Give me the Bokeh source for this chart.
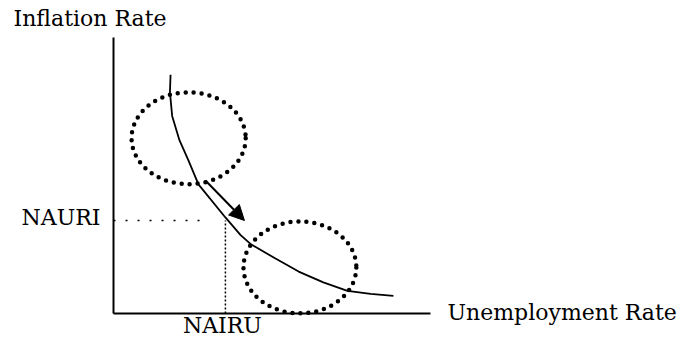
from bokeh.plotting import figure
from bokeh.models import Range1d, Label, Arrow, NormalHead
from bokeh.embed import file_html
from bokeh.resources import INLINE

# ---- data ----
# Phillips curve (unemployment rate, inflation rate), abstract units 0..10
curve_x = [1.80, 1.78, 1.85, 2.08, 2.37, 2.68, 3.53, 4.01, 4.32, 5.11, 5.84, 6.62, 7.38, 8.11, 8.83]
curve_y = [8.65, 8.01, 7.16, 6.28, 5.53, 4.68, 3.48, 2.84, 2.52, 1.99, 1.52, 1.13, 0.82, 0.71, 0.64]

# dotted ellipses (centre x, centre y, width, height)
circle_x = [2.37, 5.88]
circle_y = [6.35, 1.67]
circle_w = [3.60, 3.56]
circle_h = [3.33, 3.33]

# arrow along the curve
arrow_start = [2.90, 4.82]
arrow_end = [4.13, 3.37]

# reference levels
nairu = 3.53
nauri = 3.37
nauri_line_end = 2.74

# axes extents
axis_origin = 0.0
x_axis_end = 10.0
y_axis_end = 10.0

# labels
y_title = "Inflation Rate"
x_title = "Unemployment Rate"
nairu_label = "NAIRU"
nauri_label = "NAURI"

FONT = "DejaVu Serif"
FSIZE = "22px"

p = figure(width=679, height=339,
           x_range=Range1d(-3.565, 17.855), y_range=Range1d(-0.942, 11.341),
           x_axis_type=None, y_axis_type=None,
           min_border=0, toolbar_location=None, output_backend="svg",
           outline_line_color=None, background_fill_color="white",
           border_fill_color="white")

# axes lines
p.segment(x0=[axis_origin, axis_origin], y0=[axis_origin, axis_origin],
          x1=[x_axis_end, axis_origin], y1=[axis_origin, y_axis_end],
          line_color="black", line_width=2)

# reference dotted lines
p.line([axis_origin, nauri_line_end], [nauri, nauri], line_color="black",
       line_width=1.5, line_dash="2 10")
p.line([nairu, nairu], [axis_origin, nauri], line_color="black",
       line_width=1.5, line_dash="2 2")

# curve
p.line(curve_x, curve_y, line_color="black", line_width=1.8)

# dotted ellipses
p.ellipse(x=circle_x, y=circle_y, width=circle_w, height=circle_h,
          fill_color=None, line_color="black", line_width=4.5,
          line_dash="0 8", line_cap="round")

# arrow
p.add_layout(Arrow(x_start=arrow_start[0], y_start=arrow_start[1],
                   x_end=arrow_end[0], y_end=arrow_end[1],
                   line_color="black", line_width=2,
                   end=NormalHead(size=15, fill_color="black",
                                  line_color="black", line_width=1)))

# texts
def lab(x, y, text, align, xo, yo):
    p.add_layout(Label(x=x, y=y, text=text, text_align=align,
                       text_baseline="alphabetic", x_offset=xo, y_offset=yo,
                       text_font=FONT, text_font_size=FSIZE,
                       text_color="black"))

lab(axis_origin, y_axis_end, y_title, "left", -100, 19)
lab(x_axis_end, axis_origin, x_title, "left", 17, 1)
lab(nairu, axis_origin, nairu_label, "center", -3, -12)
lab(axis_origin, nauri, nauri_label, "right", -13, 3)

open("out.html", "w").write(file_html(p, INLINE))
